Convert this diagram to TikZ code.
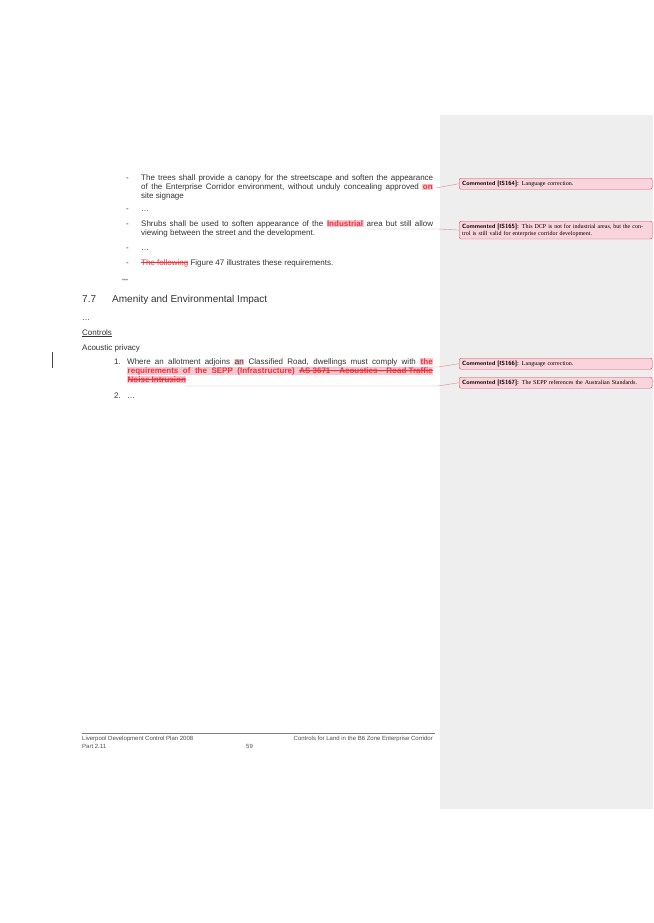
\documentclass[tikz,border=0pt]{standalone}
\usepackage{fontspec}
\setmainfont{Liberation Sans}
\newfontfamily\cmtfont{Liberation Serif}
\definecolor{panel}{HTML}{EEEEEE}
\definecolor{cmtfill}{HTML}{FAD4DC}
\definecolor{cmtline}{HTML}{D0506A}
\definecolor{insred}{HTML}{F0303A}
\definecolor{hilite}{HTML}{F8C8D0}
\newcommand{\strk}[1]{\setbox0\hbox{#1}\rlap{\raise0.3em\hbox{\vrule width\wd0 height0.45pt}}\box0}
\newcommand{\undl}[1]{\setbox0\hbox{#1}\rlap{\lower0.2em\hbox{\vrule width\wd0 height0.45pt}}\box0}
\newcommand{\ins}[1]{\colorbox{hilite}{\color{insred}\bfseries #1}}
\newcommand{\cmt}[2]{{\sffamily\bfseries Commented [#1]:} {\cmtfont #2}}
\begin{document}
\begin{tikzpicture}[x=1pt, y=-1pt,
    txt/.style={anchor=base west, inner sep=0pt, font=\fontsize{8}{9}\selectfont, text=black!80},
    cmtbox/.style={draw=cmtline, fill=cmtfill, rounded corners=2pt, anchor=north west,
      minimum width=193pt, text width=187pt, inner sep=2.5pt, align=left,
      font=\fontsize{6}{7}\selectfont},
    link/.style={draw=cmtline!70, thin},
    foot/.style={anchor=base west, inner sep=0pt, font=\fontsize{6}{7}\selectfont, text=black!70}]
  \useasboundingbox (0,0) rectangle (653,923);
  \fill[panel] (440,115) rectangle (653,809);
  \setlength{\fboxsep}{0.5pt}
  % bullets
  \foreach \y in {180,211,226,250,265} \node[txt] at (126,\y) {-};
  \node[txt] (t1) at (141,180) {\makebox[292pt][s]{The trees shall provide a canopy for the streetscape and soften the appearance}};
  \node[txt] (t2) at (141,189) {\makebox[292pt][s]{of the Enterprise Corridor environment, without unduly concealing approved \ins{on}}};
  \node[txt] (t3) at (141,198) {site signage};
  \node[txt] at (141,211) {\dots};
  \node[txt] (s1) at (141,226) {\makebox[292pt][s]{Shrubs shall be used to soften appearance of the \ins{Industrial} area but still allow}};
  \node[txt] (s2) at (141,235) {viewing between the street and the development.};
  \node[txt] at (141,250) {\dots};
  \node[txt] (f1) at (141,265) {{\color{insred}\strk{The following}} Figure 47 illustrates these requirements.};
  \node[txt, font=\fontsize{5}{6}\selectfont] at (122,282) {***};
  % section
  \node[txt, font=\fontsize{10}{12}\selectfont] (h1) at (82,302) {7.7};
  \node[txt, font=\fontsize{10}{12}\selectfont] (h2) at (112,302) {Amenity and Environmental Impact};
  \node[txt] at (82,320) {\dots};
  \node[txt] (ctl) at (82,335) {\undl{Controls}};
  \node[txt] (ap) at (82,350) {Acoustic privacy};
  \draw[black!70] (52,352) -- (52,368);
  \node[txt] at (114,364) {1.};
  \node[txt] (a1) at (127,364) {\makebox[306pt][s]{Where an allotment adjoins \colorbox{hilite}{an} Classified Road, dwellings must comply with \ins{the}}};
  \node[txt] (a2) at (127,373) {\colorbox{hilite}{\color{insred}\bfseries\makebox[305pt][s]{requirements of the SEPP (Infrastructure) \strk{AS 3671 -- Acoustics -- Road Traffic}}}};
  \node[txt] (a3) at (127,382) {\colorbox{hilite}{\color{insred}\bfseries\strk{Noise Intrusion}}};
  \node[txt] at (114,398) {2.};
  \node[txt] at (127,398) {\dots};
  % comments
  \node[cmtbox] (c164) at (459,178) {\cmt{IS164}{Language correction.}};
  \node[cmtbox] (c165) at (459,221) {\cmt{IS165}{This DCP is not for industrial areas, but the control is still valid for enterprise corridor development.}};
  \node[cmtbox] (c166) at (459,358) {\cmt{IS166}{Language correction.}};
  \node[cmtbox] (c167) at (459,377) {\cmt{IS167}{The SEPP references the Australian Standards.}};
  \coordinate (e164) at (436,188);
  \coordinate (p165) at (367,229);
  \coordinate (e165) at (438,229);
  \coordinate (p166) at (248,367);
  \coordinate (e166) at (438,367);
  \coordinate (p167) at (185,386);
  \coordinate (e167) at (438,386);
  \draw[link] (e164) -- (c164.west);
  \draw[link] (p165) -- (e165) -- (c165.west);
  \draw[link] (p166) -- (e166) -- (c166.west);
  \draw[link] (p167) -- (e167) -- (c167.west);
  % footer
  \draw[black!50, thin] (82,733) -- (435,733);
  \node[foot] at (82,740) {Liverpool Development Control Plan 2008};
  \node[foot] at (82,748) {Part 2.11};
  \node[foot, anchor=base east] at (433,740) {Controls for Land in the B6 Zone Enterprise Corridor};
  \node[foot] at (246,748) {59};
\end{tikzpicture}
\end{document}
